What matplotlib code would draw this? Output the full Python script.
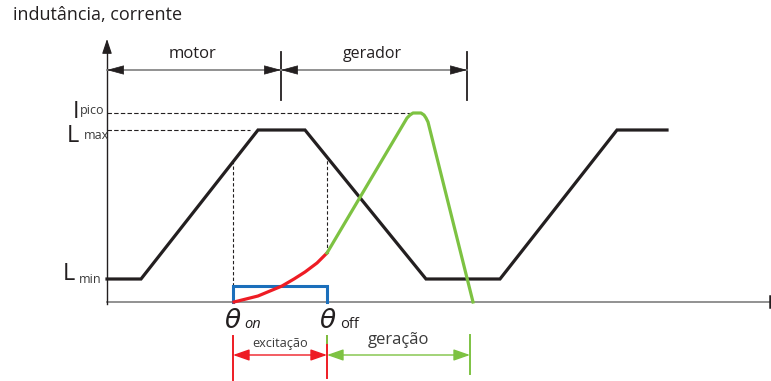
import numpy as np
import matplotlib
matplotlib.use('Agg')
import matplotlib.pyplot as plt

plt.rcParams['font.family'] = ['Open Sans', 'DejaVu Sans']

# angle axis in electrical degrees from the y axis, values in arbitrary units
L_MIN, L_MAX, I_PICO = 23, 172, 189
ind_theta = [0, 34, 151, 198, 319, 393, 510, 560]
ind_val = [L_MIN, L_MIN, L_MAX, L_MAX, L_MIN, L_MIN, L_MAX, L_MAX]

theta_on, theta_off = 126, 220
theta_motor_end = 174      # motor / gerador boundary
theta_gerador_end = 360
theta_geracao_end = 363
pulse_height = 16          # blue excitation pulse

# current during excitation (red) and generation (green)
exc_theta = [127, 139, 151, 163, 175, 187, 198, 210, 220]
exc_val = [0, 3, 6, 11, 16, 23, 30, 39, 49]
gen_theta = [220, 300, 303, 306, 310, 314, 317, 319, 321, 366]
gen_val = [49, 184, 187, 189, 189, 189, 187, 184, 180, 0]

BLACK = '#231f20'
RED = '#ee1c24'
GREEN = '#7dc242'
BLUE = '#1b6fbb'
GRAY = '#7f7f7f'
TXT = '#3a3a3a'

fig = plt.figure(figsize=(7.71, 3.81), dpi=100)
ax = fig.add_axes([0, 0, 1, 1])
ax.set_xlim(-107, 664)
ax.set_ylim(-79, 302)
ax.axis('off')

# axes
ax.plot([0, 663], [0, 0], color=GRAY, lw=1.2, zorder=1)
ax.plot([663, 663], [-5, 6], color=BLACK, lw=1.8)
ax.plot([0, 0], [-2, 252], color=BLACK, lw=1.0)
ax.annotate('', xy=(0, 263), xytext=(0, 250),
            arrowprops=dict(arrowstyle='-|>,head_length=0.9,head_width=0.3',
                            color=BLACK, lw=0.8, shrinkA=0, shrinkB=0))

# reference levels
ax.plot([0, 303], [I_PICO, I_PICO], color=BLACK, lw=0.8, ls=(0, (4, 2)))
ax.plot([0, 143], [L_MAX, L_MAX], color=BLACK, lw=0.8, ls=(0, (4, 2)))
ax.plot([theta_on, theta_on], [pulse_height, np.interp(theta_on, ind_theta, ind_val)],
        color=BLACK, lw=0.8, ls=(0, (3, 2)))
ax.plot([theta_off, theta_off], [np.interp(theta_off, exc_theta, exc_val),
                                 np.interp(theta_off, ind_theta[3:6], ind_val[3:6])],
        color=BLACK, lw=0.8, ls=(0, (3, 2)))

# inductance profile
ax.plot(ind_theta, ind_val, color=BLACK, lw=2.3, solid_joinstyle='miter', zorder=3)

# excitation pulse
ax.plot([theta_on, theta_on, theta_off, theta_off], [0, pulse_height, pulse_height, 0],
        color=BLUE, lw=2.2, solid_joinstyle='miter', zorder=3)

# phase current
ax.plot(exc_theta, exc_val, color=RED, lw=2.3, zorder=4)
ax.plot(gen_theta, gen_val, color=GREEN, lw=2.3, solid_joinstyle='round', zorder=4)

# motor / gerador regions
y_top = 232
for x in (theta_motor_end, theta_gerador_end):
    ax.plot([x, x], [202, 250], color=BLACK, lw=1.3)
for a, b in ((0, theta_motor_end), (theta_motor_end, theta_gerador_end)):
    ax.plot([a, b], [y_top, y_top], color=GRAY, lw=1.2)
    for tip, tail in ((a, a + 14), (b, b - 14)):
        ax.annotate('', xy=(tip, y_top), xytext=(tail, y_top),
                    arrowprops=dict(arrowstyle='-|>,head_length=1.1,head_width=0.3',
                                    color=BLACK, lw=0.5, shrinkA=0, shrinkB=0))
ax.text(86, 244, 'motor', ha='center', va='baseline', fontsize=12, color=BLACK)
ax.text(265, 244, 'gerador', ha='center', va='baseline', fontsize=11.5, color=BLACK)

# excitação / geração intervals
y_bot = -53
ax.plot([theta_on, theta_on], [-34, -78], color=RED, lw=1.4)
ax.plot([theta_off, theta_off], [-34, -76], color=RED, lw=1.4)
ax.plot([theta_off, theta_off], [-34, -41], color=GREEN, lw=1.4)
ax.plot([theta_geracao_end, theta_geracao_end], [-33, -72], color=GREEN, lw=1.4)
ax.annotate('', xy=(theta_on, y_bot), xytext=(theta_off, y_bot),
            arrowprops=dict(arrowstyle='<|-|>,head_length=1.0,head_width=0.35',
                            color=RED, lw=1.0, shrinkA=0, shrinkB=0))
ax.annotate('', xy=(theta_off, y_bot), xytext=(theta_geracao_end, y_bot),
            arrowprops=dict(arrowstyle='<|-|>,head_length=1.0,head_width=0.35',
                            color=GREEN, lw=1.0, shrinkA=0, shrinkB=0))
ax.text(173, -45, 'excitação', ha='center', va='baseline', fontsize=9.2, color=TXT)
ax.text(291, -42, 'geração', ha='center', va='baseline', fontsize=12, color=TXT)

# angle labels
ax.text(theta_on - 9, -26, 'θ', fontsize=19, style='italic', family='DejaVu Sans',
        va='baseline', color=BLACK)
ax.text(theta_on + 11, -26, 'on', fontsize=10.5, style='italic', va='baseline', color=BLACK)
ax.text(theta_off - 8, -26, 'θ', fontsize=19, style='italic', family='DejaVu Sans',
        va='baseline', color=BLACK)
ax.text(theta_off + 13, -26, 'off', fontsize=10.5, va='baseline', color=BLACK)

# level labels
ax.text(-34, I_PICO - 5, 'I', fontsize=17, va='baseline', color=BLACK)
ax.text(-27, I_PICO - 1, 'pico', fontsize=9, va='baseline', color=TXT)
ax.text(-40, L_MAX - 12, 'L', fontsize=17, va='baseline', color=BLACK)
ax.text(-23, L_MAX - 9, 'max', fontsize=9, va='baseline', color=TXT)
ax.text(-44, L_MIN - 1, 'L', fontsize=17, va='baseline', color=BLACK)
ax.text(-28, L_MIN - 4, 'min', fontsize=9, va='baseline', color=TXT)

ax.text(-94, 282, 'indutância, corrente', fontsize=13, va='baseline', color=BLACK)

fig.savefig('out.png', dpi=100)
